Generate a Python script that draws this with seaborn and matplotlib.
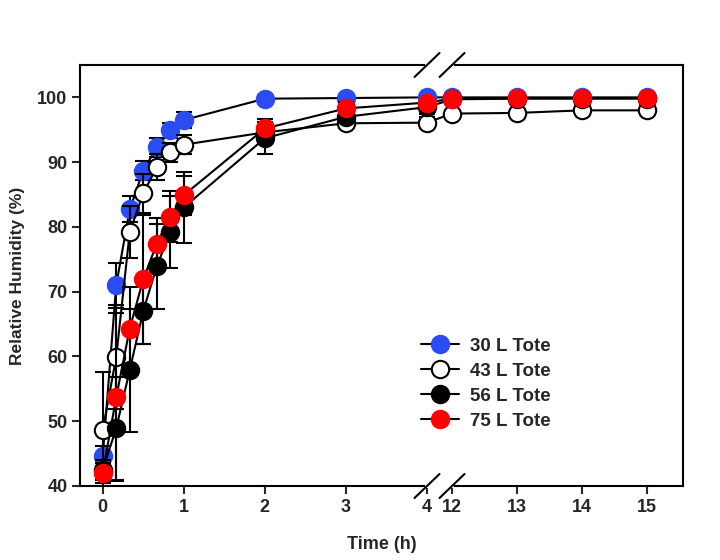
import numpy as np
import pandas as pd
import matplotlib
matplotlib.use('Agg')
import matplotlib.pyplot as plt
import seaborn as sns

# Data
time_h = [0, 1/6, 2/6, 3/6, 4/6, 5/6, 1, 2, 3, 4, 12, 13, 14, 15]
tote_names = ['30 L Tote', '43 L Tote', '56 L Tote', '75 L Tote']
rh_30 = [44.6, 71.0, 82.7, 88.7, 92.3, 94.9, 96.5, 99.8, 99.9, 100.0, 100.0, 100.0, 100.0, 100.0]
rh_43 = [48.6, 59.9, 79.2, 85.2, 89.2, 91.5, 92.7, 94.6, 96.0, 96.1, 97.5, 97.6, 98.0, 98.0]
rh_56 = [42.5, 48.9, 57.9, 67.0, 73.9, 79.2, 83.0, 93.7, 97.0, 98.5, 99.7, 99.8, 99.8, 99.8]
rh_75 = [42.0, 53.7, 64.3, 71.9, 77.4, 81.6, 84.9, 95.2, 98.3, 99.2, 99.8, 99.9, 99.9, 99.9]
err_30 = [1.5, 3.5, 2.0, 1.5, 1.5, 1.2, 1.2, 0.5, 0.3, 0.2, 0.1, 0.1, 0.1, 0.1]
err_43 = [9.0, 8.0, 4.0, 3.0, 2.0, 1.5, 1.5, 1.0, 0.8, 0.8, 0.3, 0.3, 0.3, 0.3]
err_56 = [1.5, 8.0, 9.5, 5.0, 6.5, 5.5, 5.5, 2.5, 1.0, 1.0, 0.3, 0.3, 0.3, 0.3]
err_75 = [1.5, 13.0, 6.5, 10.0, 4.0, 4.0, 3.0, 1.5, 1.0, 0.5, 0.2, 0.2, 0.2, 0.2]
face_colors = ['#2b4cf2', 'white', 'black', '#ff0000']

series = [rh_30, rh_43, rh_56, rh_75]
errors = [err_30, err_43, err_56, err_75]

sns.set_style('ticks')
plt.rcParams['font.family'] = ['Liberation Sans', 'DejaVu Sans']
plt.rcParams['font.weight'] = 'bold'
plt.rcParams['axes.labelweight'] = 'bold'

# broken x axis: 4 -> 12 squeezed into a small gap
gap = 25 / 81
slope = 65 / 81


def fwd(x):
    x = np.asarray(x, dtype=float)
    return np.where(x <= 4, x,
                    np.where(x >= 12, 4 + gap + (x - 12) * slope,
                             4 + (x - 4) * gap / 8))


def inv(u):
    u = np.asarray(u, dtype=float)
    return np.where(u <= 4, u,
                    np.where(u >= 4 + gap, 12 + (u - 4 - gap) / slope,
                             4 + (u - 4) * 8 / gap))


fig = plt.figure(figsize=(7.2, 5.6), dpi=100)
ax = fig.add_axes([80 / 720, 1 - 486 / 560, 603 / 720, 421 / 560])
ax.set_xscale('function', functions=(fwd, inv))

for i, (name, vals, err, fc) in enumerate(zip(tote_names, series, errors, face_colors)):
    ax.errorbar(time_h, vals, yerr=err, fmt='none', ecolor='black',
                elinewidth=1.5, capsize=6, capthick=1.5, zorder=2 + 2 * i)
    sns.lineplot(x=time_h, y=vals, ax=ax, color='black', linewidth=1.5,
                 marker='o', markersize=12.5, markerfacecolor=fc,
                 markeredgecolor='black' if fc in ('white', 'black') else fc,
                 markeredgewidth=1.5, label=name, zorder=3 + 2 * i)

ax.set_xlim(-0.28, 15.55)
ax.set_ylim(40, 105)
ax.set_xticks([0, 1, 2, 3, 4, 12, 13, 14, 15])
ax.set_xticklabels(['0', '1', '2', '3', '4', '12', '13', '14', '15'])
ax.set_yticks([40, 50, 60, 70, 80, 90, 100])
ax.tick_params(direction='out', length=6, width=1.5, labelsize=13, pad=3)
for s in ax.spines.values():
    s.set_linewidth(1.5)
    s.set_color('black')

ax.set_xlabel('Time (h)', fontsize=13, labelpad=15)
ax.set_ylabel('Relative Humidity (%)', fontsize=12.5, labelpad=9)

# axis break marks
fig.canvas.draw()
to_ax = ax.transAxes.inverted()
xa = to_ax.transform(ax.transData.transform((4, 50)))[0]
xb = to_ax.transform(ax.transData.transform((12, 50)))[0]
dx, dy = 12.5 / 603, 12 / 421
for yy in (0, 1):
    ax.plot([xa, xb], [yy, yy], transform=ax.transAxes, color='white',
            linewidth=3, clip_on=False, zorder=20)
    for xx in (xa, xb):
        ax.plot([xx - dx, xx + dx], [yy - dy, yy + dy], transform=ax.transAxes,
                color='black', linewidth=1.5, clip_on=False, zorder=21)

ax.legend(loc='upper left', bbox_to_anchor=(0.566, 0.352), frameon=False,
          fontsize=13.5, handlelength=2.0, handletextpad=0.6, labelspacing=0.42,
          borderpad=0, borderaxespad=0)

fig.savefig('out.png', dpi=100)
